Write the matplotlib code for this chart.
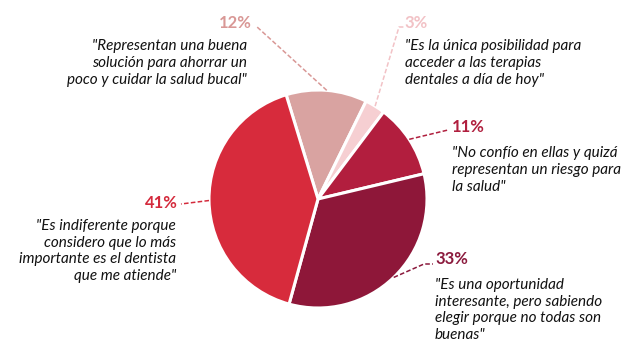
import numpy as np
import matplotlib
matplotlib.use("Agg")
import matplotlib.pyplot as plt

# ---- data ----
values = [12, 3, 11, 33, 41]
pct_labels = ["12%", "3%", "11%", "33%", "41%"]
quotes = [
    "\"Representan una buena\nsolución para ahorrar un\npoco y cuidar la salud bucal\"",
    "\"Es la única posibilidad para\nacceder a las terapias\ndentales a día de hoy\"",
    "\"No confío en ellas y quizá\nrepresentan un riesgo para\nla salud\"",
    "\"Es una oportunidad\ninteresante, pero sabiendo\nelegir porque no todas son\nbuenas\"",
    "\"Es indiferente porque\nconsidero que lo más\nimportante es el dentista\nque me atiende\"",
]
wedge_colors = ["#d9a3a1", "#f6cfd2", "#b21e3e", "#8e1739", "#d72b3c"]
pct_colors = ["#d99896", "#f2c2c6", "#b01f3e", "#8b1a3d", "#d42a3c"]

W, H = 642, 360
fig = plt.figure(figsize=(W / 100, H / 100), dpi=100)
ax = fig.add_axes([0, 0, 1, 1])

def py(y):
    return H - y

cx, cy, R = 318, py(199), 109
wedges, _ = ax.pie(values, colors=wedge_colors, startangle=107, counterclock=False,
                   center=(cx, cy), radius=R, frame=True,
                   wedgeprops=dict(edgecolor="white", linewidth=2.2))
ax.set_xlim(0, W)
ax.set_ylim(0, H)
ax.set_aspect("equal")
ax.axis("off")

# layout: (pct anchor x, y, ha), (quote anchor x, center y, ha), leader waypoints
layout = [
    dict(px=252, py=23, ha="right", qx=247, qy=63, lead=[(256, 26)]),
    dict(px=404, py=23, ha="left", qx=405, qy=63, lead=[(399, 27), (404, 27)]),
    dict(px=452, py=127, ha="left", qx=452, qy=170, lead=[(448, 130)]),
    dict(px=435, py=259, ha="left", qx=435, qy=310, lead=[(424, 264), (433, 264)]),
    dict(px=178, py=203, ha="right", qx=176, qy=251, lead=[(181, 204)]),
]

font = "Lato"
for w, lab, q, pc, L in zip(wedges, pct_labels, quotes, pct_colors, layout):
    mid = np.deg2rad((w.theta1 + w.theta2) / 2)
    ex, ey = cx + R * np.cos(mid), cy + R * np.sin(mid)
    pts = [(ex, ey)] + [(x, py(y)) for x, y in L["lead"]]
    xs, ys = zip(*pts)
    ax.plot(xs, ys, color=pc, lw=1.1, ls=(0, (3, 1.5)), solid_capstyle="butt")
    ax.text(L["px"], py(L["py"]), lab, ha=L["ha"], va="center", color=pc,
            fontsize=12, fontweight="bold", family=font)
    ax.text(L["qx"], py(L["qy"]), q, ha=L["ha"], va="center", color="#111111",
            fontsize=11, style="italic", family=font, linespacing=1.24,
            multialignment=L["ha"])

fig.savefig("out.png", dpi=100)
